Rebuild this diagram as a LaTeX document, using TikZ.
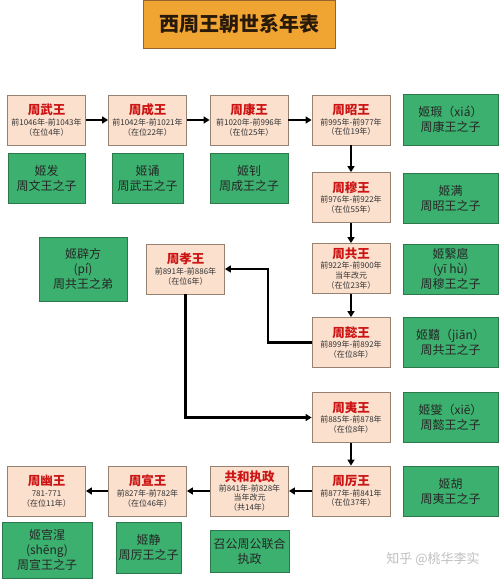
\documentclass[tikz,border=0pt]{standalone}
\usepackage{fontspec}
\setmainfont{Noto Sans CJK SC}
\usetikzlibrary{arrows.meta}
\definecolor{kingfill}{RGB}{251,224,206}
\definecolor{kingline}{RGB}{150,130,115}
\definecolor{kingred}{RGB}{205,20,20}
\definecolor{sonfill}{RGB}{60,176,110}
\definecolor{sonline}{RGB}{45,120,75}
\definecolor{titlefill}{RGB}{240,165,50}
\definecolor{titleline}{RGB}{150,100,50}
\definecolor{titletext}{RGB}{40,25,10}
\newcommand\kn[1]{{\fontsize{12.5}{13}\selectfont\bfseries\color{kingred}#1}}
\tikzset{
  king/.style={draw=kingline, fill=kingfill, line width=0.8pt, minimum width=78pt, minimum height=50pt, inner sep=0pt, align=center, text=black!80, font=\fontsize{8}{9.8}\selectfont},
  son/.style={draw=sonline, fill=sonfill, line width=0.8pt, inner sep=0pt, align=center, text=black!85, font=\fontsize{12}{15}\selectfont},
  arr/.style={line width=2.2pt, -{Triangle[length=6pt,width=7pt]}},
}
\begin{document}
\begin{tikzpicture}[x=1pt,y=-1pt]
\useasboundingbox[fill=white] (0,0) rectangle (500,580);
% title
\node[draw=titleline, fill=titlefill, line width=0.8pt, minimum width=192pt, minimum height=48pt, inner sep=0pt, text=titletext, font=\fontsize{20}{24}\selectfont\bfseries] (title) at (239,24) {西周王朝世系年表};
% kings
\node[king] (wu) at (46.5,120) {\kn{周武王}\\[1pt]前1046年-前1043年\\（在位4年）};
\node[king] (cheng) at (147.5,120) {\kn{周成王}\\[1pt]前1042年-前1021年\\（在位22年）};
\node[king] (kang) at (249,120) {\kn{周康王}\\[1pt]前1020年-前996年\\（在位25年）};
\node[king] (zhao) at (351,120) {\kn{周昭王}\\[1pt]前995年-前977年\\（在位19年）};
\node[king] (mu) at (351,197.5) {\kn{周穆王}\\[1pt]前976年-前922年\\（在位55年）};
\node[king] (gong) at (351,268.5) {\kn{周共王}\\[0pt]前922年-前900年\\当年改元\\（在位23年）};
\node[king] (yi) at (351,342.5) {\kn{周懿王}\\[1pt]前899年-前892年\\（在位8年）};
\node[king] (xiao) at (185.5,269) {\kn{周孝王}\\[1pt]前891年-前886年\\（在位6年）};
\node[king] (yiw) at (351,417.5) {\kn{周夷王}\\[1pt]前885年-前878年\\（在位8年）};
\node[king] (li) at (351,491) {\kn{周厉王}\\[1pt]前877年-前841年\\（在位37年）};
\node[king] (gonghe) at (249.5,491) {\kn{共和执政}\\[0pt]前841年-前828年\\当年改元\\（共14年）};
\node[king] (xuan) at (147.5,491) {\kn{周宣王}\\[1pt]前827年-前782年\\（在位46年）};
\node[king] (you) at (46.5,491) {\kn{周幽王}\\[1pt]781-771\\（在位11年）};
% sons
\node[son, minimum width=77pt, minimum height=50pt] (s1) at (46.5,178) {姬发\\周文王之子};
\node[son, minimum width=71pt, minimum height=50pt] (s2) at (147.5,178) {姬诵\\周武王之子};
\node[son, minimum width=78pt, minimum height=50pt] (s3) at (249,178) {姬钊\\周成王之子};
\node[son, minimum width=95pt, minimum height=51pt] (s4) at (450.5,119.5) {姬瑕（xiá）\\周康王之子};
\node[son, minimum width=95pt, minimum height=50pt] (s5) at (450.5,198) {姬满\\周昭王之子};
\node[son, minimum width=95pt, minimum height=50pt] (s6) at (450.5,269) {姬繄扈\\(yī hù)\\周穆王之子};
\node[son, minimum width=95pt, minimum height=50pt] (s7) at (450.5,342.5) {姬囏（jiān）\\周共王之子};
\node[son, minimum width=95pt, minimum height=50pt] (s8) at (450.5,417.5) {姬燮（xiē）\\周懿王之子};
\node[son, minimum width=95pt, minimum height=50pt] (s9) at (450.5,491) {姬胡\\周夷王之子};
\node[son, minimum width=88pt, minimum height=64pt] (s10) at (83,269) {姬辟方\\(pí)\\周共王之弟};
\node[son, minimum width=79pt, minimum height=42pt] (s11) at (249.5,551) {召公周公联合\\执政};
\node[son, minimum width=65pt, minimum height=51pt] (s12) at (148.5,547.5) {姬静\\周厉王之子};
\node[son, minimum width=90pt, minimum height=56pt] (s13) at (47,550) {姬宫湦\\(shēng)\\周宣王之子};
% watermark
\node[text=black!25, font=\fontsize{13}{15}\selectfont] (wm) at (433,559) {知乎 @桃华李实};
% arrows
\coordinate (bendA) at (268,300);
\draw[arr] (wu.east) -- (cheng.west);
\draw[arr] (cheng.east) -- (kang.west);
\draw[arr] (kang.east) -- (zhao.west);
\draw[arr] (zhao.south) -- (mu.north);
\draw[arr] (mu.south) -- (gong.north);
\draw[arr] (gong.south) -- (yi.north);
\draw[arr] (yi.west) -- (yi.west -| bendA) -- (bendA |- xiao.east) -- (xiao.east);
\draw[arr] (xiao.south) -- (xiao.south |- yiw.west) -- (yiw.west);
\draw[arr] (yiw.south) -- (li.north);
\draw[arr] (li.west) -- (gonghe.east);
\draw[arr] (gonghe.west) -- (xuan.east);
\draw[arr] (xuan.west) -- (you.east);
\end{tikzpicture}
\end{document}
